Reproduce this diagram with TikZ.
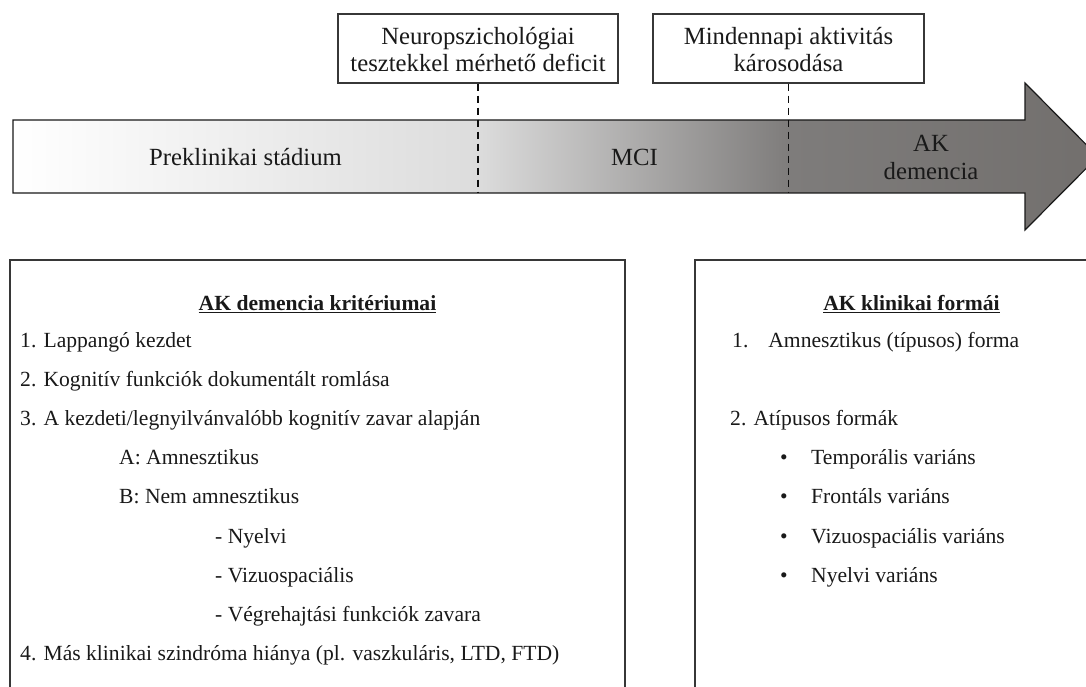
\documentclass[tikz,border=0pt]{standalone}
\usepackage{fontspec}
\setmainfont{Liberation Serif}
\definecolor{gA}{RGB}{255,255,255}
\definecolor{gB}{RGB}{220,220,220}
\definecolor{gC}{RGB}{126,124,123}
\definecolor{gD}{RGB}{114,111,109}
\definecolor{boxline}{RGB}{55,55,55}
\definecolor{txt}{RGB}{25,25,25}
\tikzset{
  topbox/.style={draw=boxline, line width=1.2pt, fill=white, inner sep=0pt},
  panel/.style={draw=boxline, line width=1.2pt, inner sep=0pt},
  bigtext/.style={font=\fontsize{24.7}{28}\selectfont, text=txt, inner sep=0pt, anchor=base},
  smalltext/.style={font=\fontsize{21.6}{26}\selectfont, text=txt, inner sep=0pt, anchor=base west},
  headtext/.style={font=\fontsize{21.6}{26}\selectfont\bfseries, text=txt, inner sep=0pt, anchor=base},
  bulletmark/.style={font=\fontsize{21.6}{26}\selectfont, text=txt, inner sep=0pt, anchor=base},
  uline/.style={draw=txt, line width=1.1pt},
  stageline/.style={draw=black!95, line width=1.6pt, dash pattern=on 7pt off 5pt},
  arrowline/.style={draw=black!90, line width=1.2pt}
}
\begin{document}
\begin{tikzpicture}[x=1pt,y=-1pt]
\useasboundingbox (0,0) rectangle (1086,687);
\clip (0,0) rectangle (1086,687);

% timeline arrow
\begin{scope}
  \clip (13,120) -- (1025,120) -- (1025,83) -- (1098,156.5) -- (1025,230) -- (1025,193) -- (13,193) -- cycle;
  \shade[left color=gA, right color=gB] (12,80) rectangle (479,235);
  \shade[left color=gB, right color=gC] (478,80) rectangle (790,235);
  \shade[left color=gC, right color=gD] (789,80) rectangle (1100,235);
\end{scope}
\path[arrowline] (13,120) -- (1025,120) -- (1025,83) -- (1098,156.5) -- (1025,230) -- (1025,193) -- (13,193) -- cycle;

% upper boxes
\node[topbox, minimum width=280pt, minimum height=69pt] (box1) at (478,48.5) {};
\node[topbox, minimum width=271pt, minimum height=69pt] (box2) at (788.5,48.5) {};
\node[bigtext] (b1a) at (478,45) {Neuropszichológiai};
\node[bigtext] (b1b) at (478,72) {tesztekkel mérhető deficit};
\node[bigtext] (b2a) at (788.5,45) {Mindennapi aktivitás};
\node[bigtext] (b2b) at (788.5,72) {károsodása};

% dashed stage boundaries
\coordinate (d1) at (478,192);
\coordinate (d2) at (788.5,192);
\draw[stageline] (box1.south) -- (d1);
\draw[stageline] (box2.south) -- (d2);

% stage labels
\node[bigtext] (s1) at (245.5,166) {Preklinikai stádium};
\node[bigtext] (s2) at (634.5,166) {MCI};
\node[bigtext] (s3a) at (931,152) {AK};
\node[bigtext] (s3b) at (931,180) {demencia};

% lower panels
\node[panel, minimum width=615pt, minimum height=460pt] (crit) at (317.5,490) {};
\node[panel, minimum width=420pt, minimum height=460pt] (forms) at (905,490) {};

% criteria panel
\node[headtext] (ct) at (317.5,310) {AK demencia kritériumai};
\draw[uline] ([yshift=-2.5pt]ct.base west) -- ([yshift=-2.5pt]ct.base east);
\node[smalltext] (c1) at (20,347) {1. Lappangó kezdet};
\node[smalltext] (c2) at (20,386.2) {2. Kognitív funkciók dokumentált romlása};
\node[smalltext] (c3) at (20,425.4) {3. A kezdeti/legnyilvánvalóbb kognitív zavar alapján};
\node[smalltext] (c3a) at (119,464.6) {A: Amnesztikus};
\node[smalltext] (c3b) at (119,503.8) {B: Nem amnesztikus};
\node[smalltext] (c3b1) at (215,543) {- Nyelvi};
\node[smalltext] (c3b2) at (215,582.2) {- Vizuospaciális};
\node[smalltext] (c3b3) at (215,621.4) {- Végrehajtási funkciók zavara};
\node[smalltext] (c4) at (20,660.6) {4. Más klinikai szindróma hiánya (pl. vaszkuláris, LTD, FTD)};

% forms panel
\node[headtext] (ft) at (911.5,310) {AK klinikai formái};
\draw[uline] ([yshift=-2.5pt]ft.base west) -- ([yshift=-2.5pt]ft.base east);
\node[smalltext] (f1) at (732,347) {1.\hspace{20pt}Amnesztikus (típusos) forma};
\node[smalltext] (f2) at (730,425.4) {2. Atípusos formák};
\node[bulletmark] (p1) at (784,464.6) {•};
\node[bulletmark] (p2) at (784,503.8) {•};
\node[bulletmark] (p3) at (784,543) {•};
\node[bulletmark] (p4) at (784,582.2) {•};
\node[smalltext] (f2a) at (811,464.6) {Temporális variáns};
\node[smalltext] (f2b) at (811,503.8) {Frontáls variáns};
\node[smalltext] (f2c) at (811,543) {Vizuospaciális variáns};
\node[smalltext] (f2d) at (811,582.2) {Nyelvi variáns};
\end{tikzpicture}
\end{document}
